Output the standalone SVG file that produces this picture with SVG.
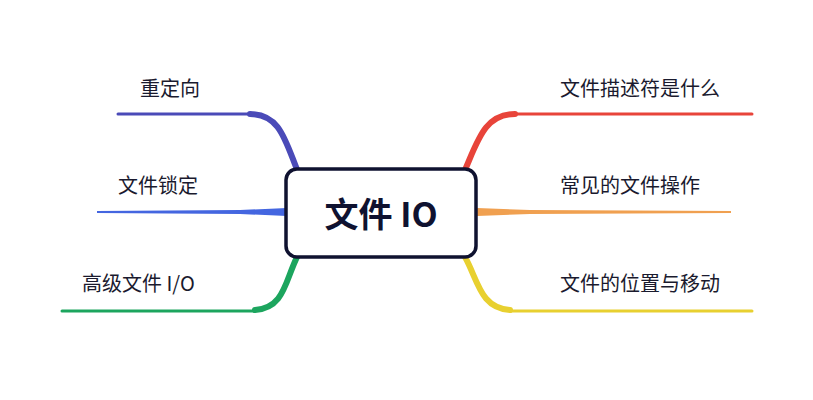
<svg xmlns="http://www.w3.org/2000/svg" width="813" height="400" viewBox="0 0 813 400">
<style>
.t{font-family:"Noto Sans CJK SC","Noto Sans",sans-serif;font-size:20px;fill:#1a1a2e}
.c{fill:none;stroke-linecap:round}
</style>
<rect width="813" height="400" fill="#fff"/>
<g id="connectors">
<path class="c" d="M118,114 H250" stroke="#4a4ab8" stroke-width="3"/>
<path class="c" d="M250,114 C280,114 285,140 298,172" stroke="#4a4ab8" stroke-width="6"/>
<path d="M97,211 L240,210 L287,208 L287,216 L240,214 L97,213 Z" fill="#4466e0"/>
<path class="c" d="M62,311 H255" stroke="#1ca55e" stroke-width="3"/>
<path class="c" d="M255,310 C285,308 285,280 298,255" stroke="#1ca55e" stroke-width="6"/>
<path class="c" d="M515,114 H752" stroke="#e8443a" stroke-width="3"/>
<path class="c" d="M515,114 C485,114 478,140 465,170" stroke="#e8443a" stroke-width="6"/>
<path d="M731,211 L530,210 L477,208 L477,216 L530,214 L731,213 Z" fill="#f0a050"/>
<path class="c" d="M510,311 H752" stroke="#e8d030" stroke-width="3"/>
<path class="c" d="M510,310 C480,308 478,280 465,257" stroke="#e8d030" stroke-width="6"/>
</g>
<g id="center">
<rect x="286" y="169" width="190" height="88" rx="11" fill="#fff" stroke="#0f1230" stroke-width="3.5"/>
<text x="381" y="227" text-anchor="middle" font-family="'Noto Sans CJK SC','Noto Sans',sans-serif" font-size="34" font-weight="bold" fill="#0f1230">文件 IO</text>
</g>
<g id="n1"><text class="t" x="140" y="96">重定向</text></g>
<g id="n2"><text class="t" x="118" y="193">文件锁定</text></g>
<g id="n3"><text class="t" x="82" y="291">高级文件 I/O</text></g>
<g id="n4"><text class="t" x="560" y="96">文件描述符是什么</text></g>
<g id="n5"><text class="t" x="560" y="193">常见的文件操作</text></g>
<g id="n6"><text class="t" x="560" y="291">文件的位置与移动</text></g>
</svg>
